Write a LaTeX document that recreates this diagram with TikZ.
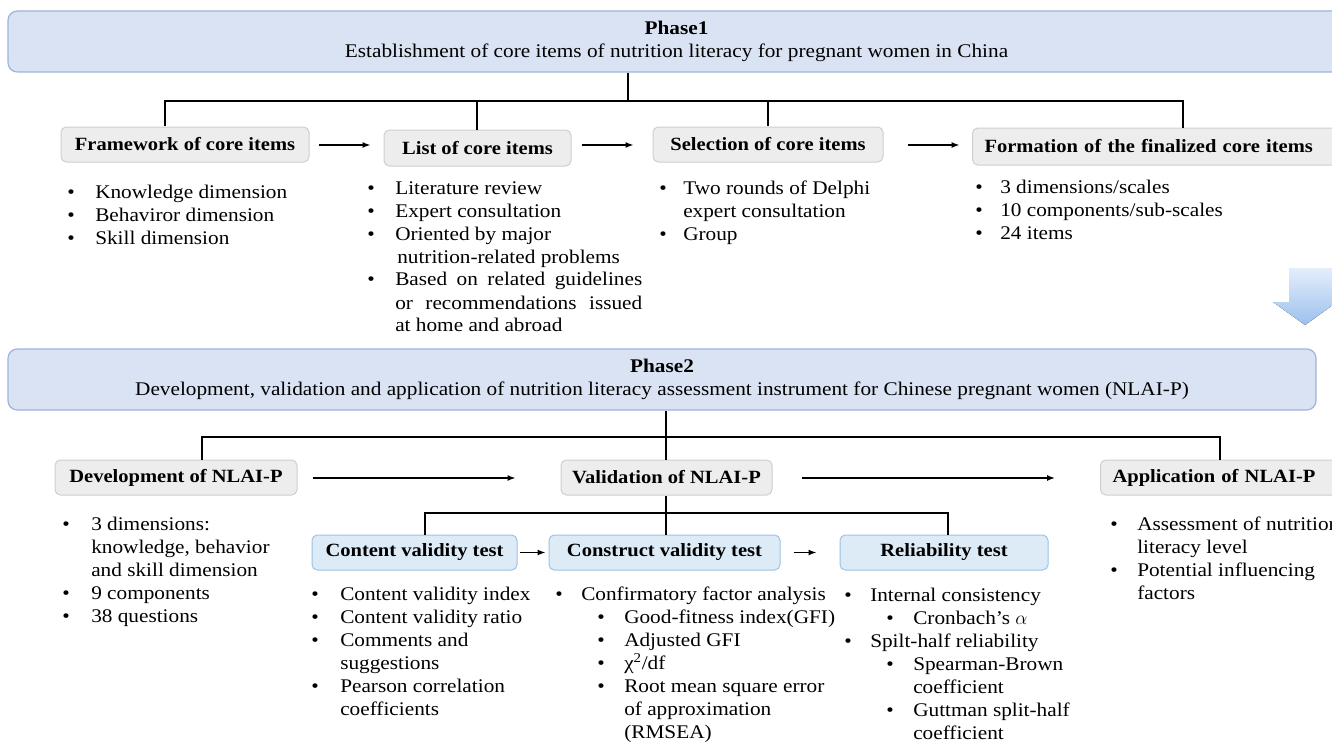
\documentclass[tikz,border=0pt]{standalone}
\usepackage{fontspec}
\setmainfont{Liberation Serif}[FakeStretch=1.1]
\usetikzlibrary{arrows.meta,calc}
\newlength{\px}\setlength{\px}{0.75pt}
\newcommand{\bl}[1]{\makebox[#1\px][l]{\textbullet}}
\newcommand{\ind}[1]{\hspace*{#1\px}}
\newcommand{\bodyfont}{\fontsize{14.5}{17.25}\selectfont}
\newcommand{\boxfont}{\fontsize{14}{17.25}\selectfont\bfseries}
\definecolor{bannerfill}{HTML}{DAE3F3}
\definecolor{bannerdraw}{HTML}{9CB4DE}
\definecolor{gfill}{HTML}{EDEDED}
\definecolor{gdraw}{HTML}{CFCFCF}
\definecolor{bfill}{HTML}{DDEBF7}
\definecolor{bdraw}{HTML}{9DC3E6}
\definecolor{arrtop}{HTML}{E4EEFB}
\definecolor{arrbot}{HTML}{9CC0EE}
\tikzset{
  banner/.style={draw=bannerdraw, fill=bannerfill, rounded corners=7pt, line width=0.9pt, align=center, font=\bodyfont, inner sep=0pt},
  gbox/.style={draw=gdraw, fill=gfill, rounded corners=4pt, line width=0.75pt, font=\boxfont, inner sep=0pt},
  bbox/.style={draw=bdraw, fill=bfill, rounded corners=4pt, line width=0.75pt, font=\boxfont, inner sep=0pt},
  tree/.style={line width=1.1pt, black},
  arr/.style={line width=1.1pt, black, -{Latex[length=6pt,width=4.5pt]}},
  lst/.style={anchor=base west, inner sep=0pt, font=\bodyfont}
}
\begin{document}
\begin{tikzpicture}[x=0.75pt,y=-0.75pt]
\useasboundingbox (0,0) rectangle (1332,742);
\clip (0,0) rectangle (1332,742);
\fill[white] (0,0) rectangle (1332,742);

% ---------------- Phase 1 ----------------
\node[banner, minimum width=1337\px, minimum height=61\px] (p1) at (676.5,41.5)
  {\textbf{Phase1}\\Establishment of core items of nutrition literacy for pregnant women in China};

\node[gbox, minimum width=248\px, minimum height=35\px] (fw) at (185,144.5) {Framework of core items};
\node[gbox, minimum width=187\px, minimum height=36\px] (list) at (477.5,148) {List of core items};
\node[gbox, minimum width=230\px, minimum height=35\px] (sel) at (768,144.5) {Selection of core items};
\node[gbox, anchor=west, minimum height=37\px, text width=349\px, inner xsep=12\px, align=left] (form) at (972,146.5) {Formation of the finalized core items};

\coordinate (t1) at (628,101);
\coordinate (b1) at (165,101);
\coordinate (b2) at (477,101);
\coordinate (b3) at (768,101);
\coordinate (b4) at (1183,101);
\draw[tree] (p1.south -| t1) -- (t1);
\draw[tree] (fw.north -| b1) -- (b1) -- (b4) -- (form.north -| b4);
\draw[tree] (b2) -- (list.north -| b2);
\draw[tree] (b3) -- (sel.north -| b3);

\draw[arr] ($(fw.east)+(9,0.5)$) -- +(52,0);
\draw[arr] ($(list.east)+(10,-3)$) -- +(52,0);
\draw[arr] ($(sel.east)+(24,0.5)$) -- +(52,0);

\node[lst] (l1) at (67,198) {\begin{tabular}[t]{@{}l@{}}
\bl{28}Knowledge dimension\\
\bl{28}Behaviror dimension\\
\bl{28}Skill dimension
\end{tabular}};

\node[lst] (l2) at (367,194) {\begin{tabular}[t]{@{}l@{}}
\bl{28}Literature review\\
\bl{28}Expert consultation\\
\bl{28}Oriented by major\\
\ind{30}nutrition-related problems\\
\bl{28}\makebox[247\px][s]{Based on related guidelines}\\
\ind{28}\makebox[247\px][s]{or recommendations issued}\\
\ind{28}at home and abroad
\end{tabular}};

\node[lst] (l3) at (659,194) {\begin{tabular}[t]{@{}l@{}}
\bl{24}Two rounds of Delphi\\
\ind{24}expert consultation\\
\bl{24}Group
\end{tabular}};

\node[lst] (l4) at (975,193) {\begin{tabular}[t]{@{}l@{}}
\bl{25}3 dimensions/scales\\
\bl{25}10 components/sub-scales\\
\bl{25}24 items
\end{tabular}};

% big arrow between phases
\fill[top color=arrtop, bottom color=arrbot] (1289,268) -- (1333,268) -- (1333,302) -- (1337,302) -- (1305,325) -- (1273,302) -- (1289,302) -- cycle;

% ---------------- Phase 2 ----------------
\node[banner, minimum width=1308\px, minimum height=61\px] (p2) at (662,379.5)
  {\textbf{Phase2}\\Development, validation and application of nutrition literacy assessment instrument for Chinese pregnant women (NLAI-P)};

\node[gbox, minimum width=242\px, minimum height=35\px] (dev) at (176,477.5) {Development of NLAI-P};
\node[gbox, minimum width=211\px, minimum height=35\px] (val) at (666.5,477.5) {Validation of NLAI-P};
\node[gbox, anchor=west, minimum height=35\px, text width=220\px, inner xsep=12\px, align=left] (app) at (1100,477.5) {Application of NLAI-P};

\coordinate (s2) at (666,437);
\coordinate (d1) at (202,437);
\coordinate (d3) at (1220,437);
\draw[tree] (p2.south -| s2) -- (val.north -| s2);
\draw[tree] (dev.north -| d1) -- (d1) -- (d3) -- (app.north -| d3);

\draw[arr] ($(dev.east)+(15,0.5)$) -- ($(val.west)+(-45,0.5)$);
\draw[arr] ($(val.east)+(29,0.5)$) -- ($(app.west)+(-45,0.5)$);

\node[bbox, minimum width=205\px, minimum height=35\px] (cv) at (414.5,552.5) {Content validity test};
\node[bbox, minimum width=231\px, minimum height=35\px] (cs) at (664.5,552.5) {Construct validity test};
\node[bbox, minimum width=208\px, minimum height=35\px] (rel) at (944,552.5) {Reliability test};

\coordinate (c2) at (666,513);
\coordinate (e1) at (425,513);
\coordinate (e3) at (948,513);
\draw[tree] (val.south -| c2) -- (cs.north -| c2);
\draw[tree] (cv.north -| e1) -- (e1) -- (e3) -- (rel.north -| e3);

\draw[arr] ($(cv.east)+(2,0)$) -- ($(cs.west)+(-3,0)$);
\draw[arr] ($(cs.east)+(13,0)$) -- ($(rel.west)+(-23,0)$);

\node[lst] (l5) at (62,530) {\begin{tabular}[t]{@{}l@{}}
\bl{29}3 dimensions:\\
\ind{29}knowledge, behavior\\
\ind{29}and skill dimension\\
\bl{29}9 components\\
\bl{29}38 questions
\end{tabular}};

\node[lst] (l6) at (311,600) {\begin{tabular}[t]{@{}l@{}}
\bl{29}Content validity index\\
\bl{29}Content validity ratio\\
\bl{29}Comments and\\
\ind{29}suggestions\\
\bl{29}Pearson correlation\\
\ind{29}coefficients
\end{tabular}};

\node[lst] (l7) at (555,600) {\begin{tabular}[t]{@{}l@{}}
\bl{26}Confirmatory factor analysis\\
\ind{42}\bl{27}Good-fitness index(GFI)\\
\ind{42}\bl{27}Adjusted GFI\\
\ind{42}\bl{27}χ\textsuperscript{2}/df\\
\ind{42}\bl{27}Root mean square error\\
\ind{69}of approximation\\
\ind{69}(RMSEA)
\end{tabular}};

\node[lst] (l8) at (844,601) {\begin{tabular}[t]{@{}l@{}}
\bl{26}Internal consistency\\
\ind{42}\bl{27}Cronbach’s $\alpha$\\
\bl{26}Spilt-half reliability\\
\ind{42}\bl{27}Spearman-Brown\\
\ind{69}coefficient\\
\ind{42}\bl{27}Guttman split-half\\
\ind{69}coefficient
\end{tabular}};

\node[lst] (l9) at (1110,530) {\begin{tabular}[t]{@{}l@{}}
\bl{27}Assessment of nutrition\\
\ind{27}literacy level\\
\bl{27}Potential influencing\\
\ind{27}factors
\end{tabular}};
\end{tikzpicture}
\end{document}
